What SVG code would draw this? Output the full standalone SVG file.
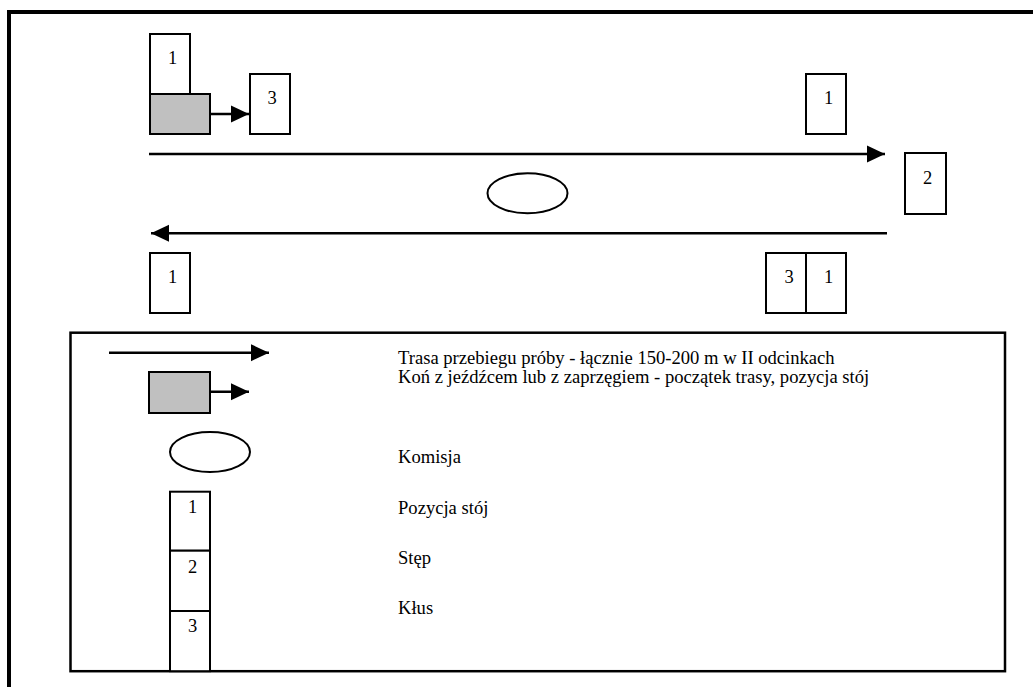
<svg xmlns="http://www.w3.org/2000/svg" width="1033" height="687" viewBox="0 0 1033 687">
  <style>
    .box { fill: #ffffff; stroke: #000000; stroke-width: 2; }
    .horse { fill: #c0c0c0; stroke: #000000; stroke-width: 2; }
    .oval { fill: #ffffff; stroke: #000000; stroke-width: 2; }
    .line { fill: none; stroke: #000000; stroke-width: 2.5; }
    .num { font-family: "Liberation Serif", "Times New Roman", serif; font-size: 18.5px; fill: #000000; text-anchor: middle; }
    .lbl { font-family: "Liberation Serif", "Times New Roman", serif; font-size: 18.6px; fill: #000000; }
  </style>
  <defs>
    <marker id="arrow" markerUnits="userSpaceOnUse" markerWidth="18" markerHeight="18" viewBox="0 0 16 15" refX="16" refY="7.5" orient="auto">
      <path d="M0,0 L16,7.5 L0,15 Z" fill="#000000"/>
    </marker>
  </defs>

  <rect id="frame" x="9" y="12" width="1040" height="700" fill="none" stroke="#000000" stroke-width="4"/>

  <g id="connectors">
    <line class="line" x1="149" y1="154" x2="885" y2="154" marker-end="url(#arrow)"/>
    <line class="line" x1="887" y1="233.3" x2="151" y2="233.3" marker-end="url(#arrow)"/>
    <line class="line" x1="210" y1="114" x2="249" y2="114" marker-end="url(#arrow)"/>
  </g>

  <g id="start-box-1">
    <rect class="box" x="150" y="34" width="40" height="60"/>
    <text class="num" x="172.5" y="64">1</text>
  </g>
  <g id="horse-start">
    <rect class="horse" x="150" y="94" width="60" height="40"/>
  </g>
  <g id="box-3-top">
    <rect class="box" x="250" y="74" width="40" height="60"/>
    <text class="num" x="272" y="104">3</text>
  </g>
  <g id="box-1-top-right">
    <rect class="box" x="806" y="74" width="40" height="60"/>
    <text class="num" x="828.5" y="104">1</text>
  </g>
  <g id="box-2-right">
    <rect class="box" x="905" y="153" width="41" height="61"/>
    <text class="num" x="927.5" y="184">2</text>
  </g>
  <g id="commission">
    <ellipse class="oval" cx="527.5" cy="193.3" rx="40" ry="20"/>
  </g>
  <g id="box-1-bottom-left">
    <rect class="box" x="150" y="253" width="40" height="60"/>
    <text class="num" x="172.5" y="283.3">1</text>
  </g>
  <g id="box-3-bottom-right">
    <rect class="box" x="766" y="253" width="40" height="60"/>
    <text class="num" x="789" y="283.3">3</text>
  </g>
  <g id="box-1-bottom-right">
    <rect class="box" x="806" y="253" width="40" height="60"/>
    <text class="num" x="828.5" y="283.3">1</text>
  </g>

  <g id="legend">
    <rect x="70.5" y="332.7" width="934.5" height="338.5" fill="#ffffff" stroke="#000000" stroke-width="2.5"/>
    <line class="line" x1="109" y1="352.7" x2="269" y2="352.7" marker-end="url(#arrow)"/>
    <rect class="horse" x="149" y="372" width="61" height="41"/>
    <line class="line" x1="210" y1="391.7" x2="249" y2="391.7" marker-end="url(#arrow)"/>
    <ellipse class="oval" cx="210" cy="452" rx="40" ry="20"/>
    <rect class="box" x="170" y="491.7" width="40" height="59"/>
    <text class="num" x="192.5" y="513">1</text>
    <rect class="box" x="170" y="550.7" width="40" height="60.3"/>
    <text class="num" x="192.5" y="572.5">2</text>
    <rect class="box" x="170" y="611" width="40" height="60.2"/>
    <text class="num" x="192.5" y="632">3</text>
    <text class="lbl" x="398" y="364">Trasa przebiegu próby - łącznie 150-200 m w II odcinkach</text>
    <text class="lbl" x="398" y="383">Koń z jeźdźcem lub z zaprzęgiem - początek trasy, pozycja stój</text>
    <text class="lbl" x="398" y="463">Komisja</text>
    <text class="lbl" x="398" y="514">Pozycja stój</text>
    <text class="lbl" x="398" y="564">Stęp</text>
    <text class="lbl" x="398" y="614">Kłus</text>
  </g>
</svg>
